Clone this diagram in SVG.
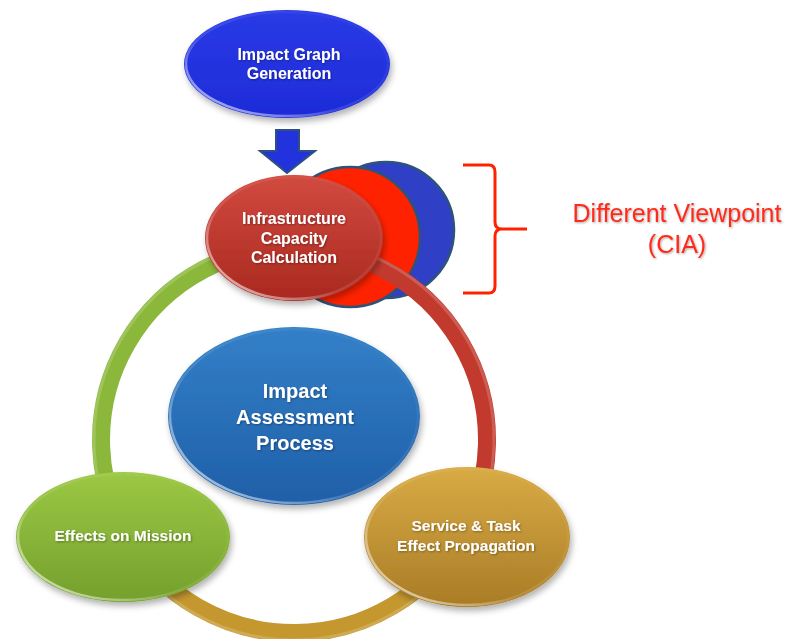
<svg xmlns="http://www.w3.org/2000/svg" width="789" height="639" viewBox="0 0 789 639">
  <defs>
    <style>
      .lbl { font-family: "Liberation Sans", Arial, sans-serif; font-weight: bold; fill: #ffffff; text-anchor: middle; }
      .note { font-family: "Liberation Sans", Arial, sans-serif; fill: #ff2a1a; text-anchor: middle; font-size: 25px; }
      .rim { fill: none; stroke: url(#rimGrad); stroke-width: 2.5; }
      .ring { fill: none; stroke-width: 18; stroke-linecap: butt; }
    </style>
    <filter id="shadow" x="-20%" y="-20%" width="140%" height="150%">
      <feDropShadow dx="2" dy="4" stdDeviation="3" flood-color="#000" flood-opacity="0.3"/>
    </filter>
    <filter id="tshadow" x="-10%" y="-30%" width="120%" height="160%">
      <feDropShadow dx="1" dy="1" stdDeviation="0.8" flood-color="#000" flood-opacity="0.35"/>
    </filter>
    <linearGradient id="rimGrad" x1="0" y1="1" x2="1" y2="0">
      <stop offset="0" stop-color="#ffffff" stop-opacity="0.8"/>
      <stop offset="0.4" stop-color="#ffffff" stop-opacity="0.12"/>
      <stop offset="1" stop-color="#ffffff" stop-opacity="0"/>
    </linearGradient>
    <linearGradient id="gTop" x1="0" y1="0" x2="0" y2="1">
      <stop offset="0" stop-color="#2a3be6"/>
      <stop offset="1" stop-color="#1d2bd8"/>
    </linearGradient>
    <linearGradient id="gInfra" x1="0" y1="0" x2="0" y2="1">
      <stop offset="0" stop-color="#d24a40"/>
      <stop offset="1" stop-color="#a9291f"/>
    </linearGradient>
    <linearGradient id="gCenter" x1="0" y1="0" x2="0" y2="1">
      <stop offset="0" stop-color="#3380c8"/>
      <stop offset="1" stop-color="#1f5fa8"/>
    </linearGradient>
    <linearGradient id="gGreen" x1="0" y1="0" x2="0" y2="1">
      <stop offset="0" stop-color="#9cc845"/>
      <stop offset="1" stop-color="#74a02c"/>
    </linearGradient>
    <linearGradient id="gGold" x1="0" y1="0" x2="0" y2="1">
      <stop offset="0" stop-color="#d9ab45"/>
      <stop offset="1" stop-color="#a97c26"/>
    </linearGradient>
  </defs>

  <rect width="789" height="639" fill="#ffffff"/>

  <!-- stacked viewpoint discs behind the capacity node -->
  <g id="viewpoints">
    <circle cx="386" cy="230" r="68" fill="#2f3fc6" stroke="#2d5478" stroke-width="2.5"/>
    <circle cx="350" cy="237" r="70" fill="#ff2200" stroke="#2d5478" stroke-width="2.5"/>
  </g>

  <!-- process cycle ring -->
  <g id="connectors">
    <path class="ring" stroke="#c23a2e" d="M 294 247 A 193 193 0 0 1 462.8 533.6"/>
    <path class="ring" stroke="#c4982f" d="M 462.8 533.6 A 193 193 0 0 1 126.9 536.5"/>
    <path class="ring" stroke="#8bb83a" d="M 126.9 536.5 A 193 193 0 0 1 294 247"/>
    <path fill="none" stroke="#ffffff" stroke-opacity="0.18" stroke-width="3" d="M 294 240 A 200 200 0 1 1 293.9 240"/>
    <!-- feed arrow into the cycle -->
    <path d="M 276 130 L 299 130 L 299 151 L 315 151 L 287 173 L 260 151 L 276 151 Z" fill="#2233dd" stroke="#2f4f7f" stroke-width="2"/>
  </g>

  <g id="impact-graph" filter="url(#shadow)">
    <ellipse cx="287" cy="64" rx="103" ry="54" fill="url(#gTop)"/>
    <ellipse class="rim" cx="287" cy="64" rx="101" ry="52"/>
    <text class="lbl" font-size="16" filter="url(#tshadow)"><tspan x="289" y="60">Impact Graph</tspan><tspan x="289" y="79">Generation</tspan></text>
  </g>

  <g id="infrastructure" filter="url(#shadow)">
    <ellipse cx="294" cy="238" rx="89" ry="63" fill="url(#gInfra)"/>
    <ellipse class="rim" cx="294" cy="238" rx="87" ry="61"/>
    <text class="lbl" font-size="16" filter="url(#tshadow)"><tspan x="294" y="224">Infrastructure</tspan><tspan x="294" y="244">Capacity</tspan><tspan x="294" y="263">Calculation</tspan></text>
  </g>

  <g id="assessment" filter="url(#shadow)">
    <ellipse cx="294" cy="416" rx="126" ry="89" fill="url(#gCenter)"/>
    <ellipse class="rim" cx="294" cy="416" rx="124" ry="87"/>
    <text class="lbl" font-size="20" filter="url(#tshadow)"><tspan x="295" y="398">Impact</tspan><tspan x="295" y="424">Assessment</tspan><tspan x="295" y="450">Process</tspan></text>
  </g>

  <g id="mission" filter="url(#shadow)">
    <ellipse cx="123" cy="537" rx="107" ry="65" fill="url(#gGreen)"/>
    <ellipse class="rim" cx="123" cy="537" rx="105" ry="63"/>
    <text class="lbl" font-size="15.5" x="123" y="541" filter="url(#tshadow)">Effects on Mission</text>
  </g>

  <g id="propagation" filter="url(#shadow)">
    <ellipse cx="467" cy="537" rx="103" ry="70" fill="url(#gGold)"/>
    <ellipse class="rim" cx="467" cy="537" rx="101" ry="68"/>
    <text class="lbl" font-size="15.5" filter="url(#tshadow)"><tspan x="466" y="531">Service &amp; Task</tspan><tspan x="466" y="551">Effect Propagation</tspan></text>
  </g>

  <!-- brace and viewpoint note -->
  <g id="viewpoint-note">
    <path d="M 463 165 L 489 165 Q 495 165 495 172 L 495 222 Q 495 229 502 229 L 527 229 M 502 229 Q 495 229 495 236 L 495 286 Q 495 293 489 293 L 463 293" fill="none" stroke="#ff2200" stroke-width="3"/>
    <text class="note" filter="url(#tshadow)"><tspan x="677" y="222">Different Viewpoint</tspan><tspan x="677" y="253">(CIA)</tspan></text>
  </g>
</svg>
